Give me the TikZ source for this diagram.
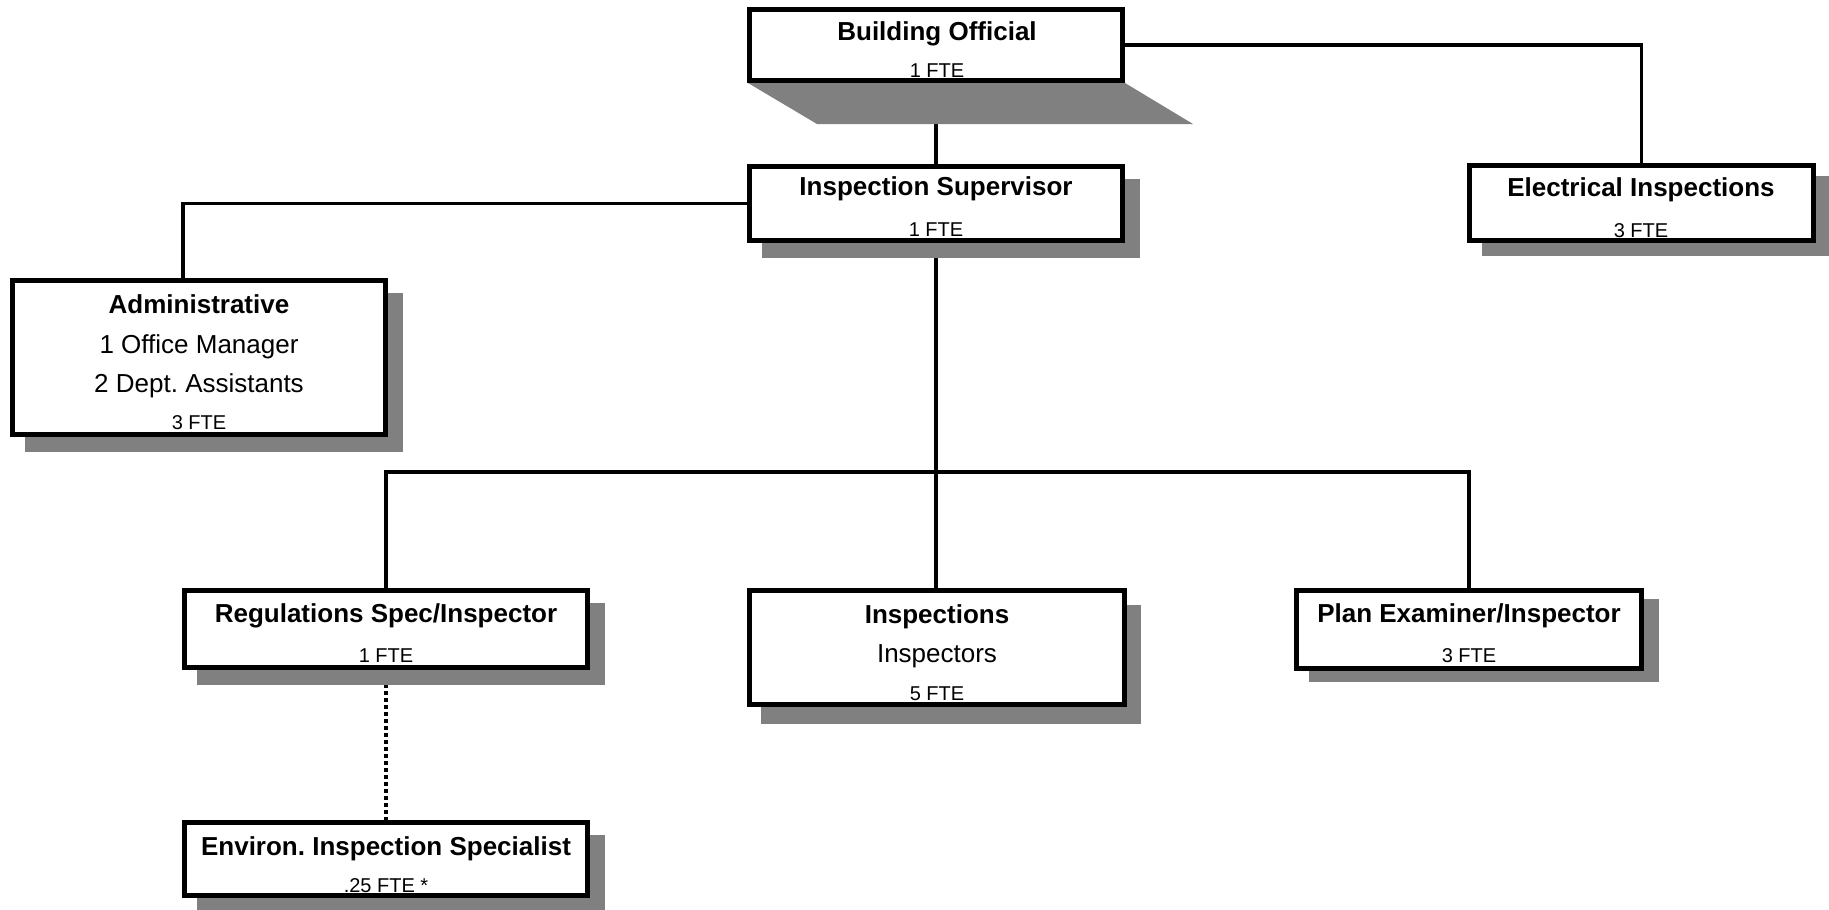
\documentclass[tikz,border=0pt]{standalone}
\usepackage{fontspec}
\setmainfont{Liberation Sans}
\usetikzlibrary{calc}
\frenchspacing
\definecolor{shadowgray}{RGB}{128,128,128}
\pgfdeclarelayer{bg}
\pgfdeclarelayer{conn}
\pgfdeclarelayer{shad}
\pgfsetlayers{bg,conn,shad,main}
\newcommand{\obox}[7]{%
  \begin{pgfonlayer}{shad}
  \fill[shadowgray] ({#2+#6},{#3+#7}) rectangle ({#4+#6},{#5+#7});
  \end{pgfonlayer}
  \node[orgbox, minimum width={#4-#2-5}, minimum height={#5-#3-5}] (#1) at ({(#2+#4)/2},{(#3+#5)/2}) {};
}
\begin{document}
\begin{tikzpicture}[x=1pt,y=-1pt,
  orgbox/.style={draw=black,line width=5pt,fill=white,inner sep=0pt},
  ttl/.style={font=\fontsize{26}{31}\selectfont\bfseries, inner sep=0pt, anchor=base},
  sub/.style={font=\fontsize{26}{31}\selectfont, inner sep=0pt, anchor=base},
  fte/.style={font=\fontsize{20}{24}\selectfont, inner sep=0pt, anchor=base},
  link/.style={line width=3.5pt},
  dotlink/.style={line width=4.5pt, dash pattern=on 4pt off 3pt}]
\begin{pgfonlayer}{bg}
\fill[white] (0,0) rectangle (1829,910);
\end{pgfonlayer}
\useasboundingbox (0,0) rectangle (1829,910);

% Building Official with slanted shadow
\begin{pgfonlayer}{shad}
\fill[shadowgray] (748,83) -- (1125,83) -- (1193,124) -- (817,124) -- cycle;
\end{pgfonlayer}
\node[orgbox, minimum width=373pt, minimum height=71pt] (bo) at (936,45) {};

\obox{is}{747}{164}{1125}{243}{15}{15}
\obox{el}{1467}{163}{1816}{243}{15}{13}
\obox{adm}{10}{278}{388}{437}{15}{15}
\obox{reg}{182}{588}{590}{670}{15}{15}
\obox{ins}{747}{588}{1127}{707}{14}{17}
\obox{plan}{1294}{588}{1644}{671}{15}{11}
\obox{env}{182}{820}{590}{898}{15}{15}

% texts
\node[ttl] (bo-t) at (937,40) {Building Official};
\node[fte] (bo-f) at (937,77) {1 FTE};
\node[ttl] (is-t) at (936,195) {Inspection Supervisor};
\node[fte] (is-f) at (936,236) {1 FTE};
\node[ttl] (el-t) at (1641,196) {Electrical Inspections};
\node[fte] (el-f) at (1641,237) {3 FTE};
\node[ttl] (adm-t) at (199,313) {Administrative};
\node[sub] (adm-a) at (199,353) {1 Office Manager};
\node[sub] (adm-b) at (199,392) {2 Dept. Assistants};
\node[fte] (adm-f) at (199,429) {3 FTE};
\node[ttl] (reg-t) at (386,622) {Regulations Spec/Inspector};
\node[fte] (reg-f) at (386,662) {1 FTE};
\node[ttl] (ins-t) at (937,623) {Inspections};
\node[sub] (ins-a) at (937,662) {Inspectors};
\node[fte] (ins-f) at (937,700) {5 FTE};
\node[ttl] (plan-t) at (1469,622) {Plan Examiner/Inspector};
\node[fte] (plan-f) at (1469,662) {3 FTE};
\node[ttl] (env-t) at (386,855) {Environ. Inspection Specialist};
\node[fte] (env-f) at (386,892) {.25 FTE *};

% connectors
\begin{pgfonlayer}{conn}
\draw[link] (bo.east) -| (el.north);
\draw[link] (bo.south) -- (is.north);
\draw[link] (is.west) -| ([xshift=-16pt]adm.north);
\draw[link] (is.south) -- (is.south |- ins.north);
\coordinate (bus) at (937,472);
\draw[link] (reg.north) |- (bus) -| (plan.north);
\draw[dotlink] (reg.south) -- (env.north);
\end{pgfonlayer}
\end{tikzpicture}
\end{document}
